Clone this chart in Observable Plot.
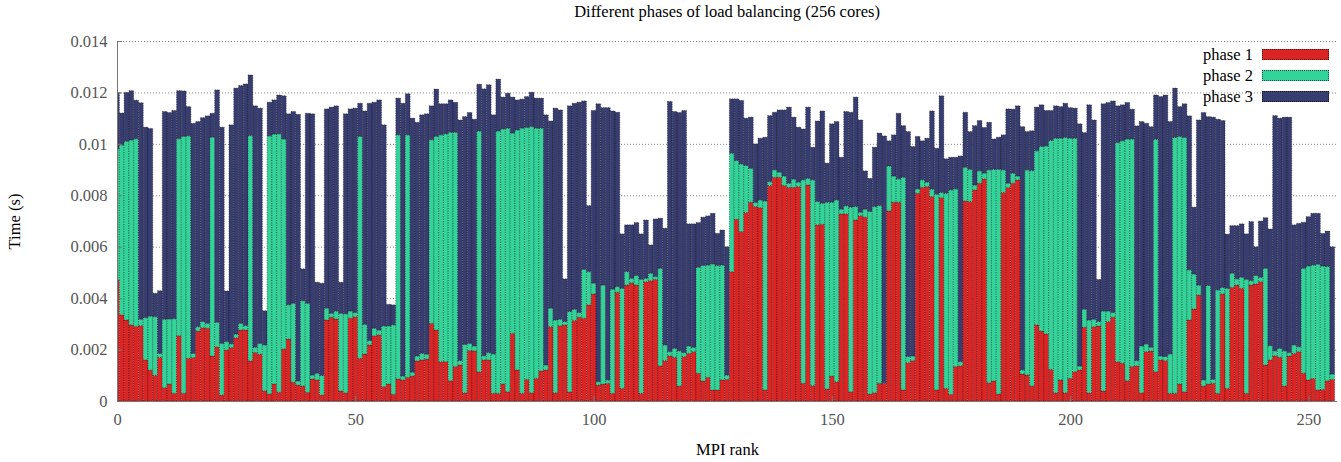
<!DOCTYPE html>
<html>
<head>
<meta charset="utf-8">
<script src="https://cdn.jsdelivr.net/npm/d3@7"></script>
<script src="https://cdn.jsdelivr.net/npm/@observablehq/plot@0.6"></script>
<style>
  body { margin: 0; background: #fff; font-family: "Liberation Serif", "DejaVu Serif", serif; }
  #wrap { position: relative; width: 1341px; height: 462px; overflow: hidden; }
  #title { position: absolute; left: 117px; width: 1220px; top: 2px; text-align: center; font-size: 16.5px; color: #000; }
  #chart { position: absolute; left: 0; top: 28px; }
  #legend { position: absolute; top: 44px; right: 12px; }
  .row { display: flex; align-items: center; justify-content: flex-end; height: 21px; font-size: 16.5px; color: #000; }
  .sw { width: 67px; height: 11px; margin-left: 9px; box-sizing: border-box; border: 1px dotted rgba(0,0,0,0.6); }
</style>
</head>
<body>
<div id="wrap">
  <div id="title">Different phases of load balancing (256 cores)</div>
  <div id="chart"></div>
  <div id="legend"></div>
</div>
<script>
// MPI ranks (categories)
const ranks = d3.range(256);
const phases = ["phase 1", "phase 2", "phase 3"];
const phaseColors = ["#db2525", "#33d49a", "#383d70"];
const yTicks = [0, 0.002, 0.004, 0.006, 0.008, 0.01, 0.012, 0.014];
const xTicks = [0, 50, 100, 150, 200, 250];

// cumulative end time of each phase per rank, in milliseconds
const phase1End = [
4.71,3.35,3.15,2.96,2.9,2.93,1.6,1.2,1.0,1.7,0.52,0.66,0.3,2.54,0.3,1.66,
1.69,2.72,2.85,2.83,1.75,2.11,0.23,1.98,2.08,2.46,2.76,2.76,1.56,1.89,1.82,0.4,
0.27,0.66,0.34,2.02,2.41,0.73,0.62,0.58,0.34,0.86,0.82,0.23,3.15,3.26,3.19,0.39,
0.32,3.22,3.28,1.66,1.83,2.18,2.54,2.57,0.56,0.66,0.26,0.86,0.82,0.92,0.97,1.56,
1.6,1.63,3.02,2.76,1.53,1.53,0.79,1.34,1.4,0.32,1.96,1.95,1.14,1.6,1.6,0.3,
0.3,0.66,0.36,2.63,1.21,0.3,0.84,0.32,0.88,1.17,1.21,2.89,0.32,2.93,2.96,0.36,
3.13,3.26,3.22,3.74,4.16,0.62,0.66,0.69,0.3,4.23,0.49,4.51,4.6,4.51,0.3,4.64,
4.68,4.73,1.36,1.57,1.76,1.7,0.58,1.73,1.85,1.92,1.08,0.78,0.92,0.43,0.43,0.82,
0.84,5.03,7.07,6.59,7.33,7.73,7.56,7.52,0.43,8.38,8.7,8.7,8.38,8.31,8.31,8.34,
0.69,8.4,0.6,6.85,6.87,0.47,0.97,0.75,7.28,7.28,0.36,7.04,7.21,7.15,0.27,0.32,
0.69,0.69,7.39,7.73,7.73,0.43,1.49,1.57,8.08,8.31,8.34,7.95,0.43,7.91,0.49,0.26,
1.34,1.37,7.78,7.76,8.21,8.47,8.64,0.71,0.78,0.27,8.11,8.3,8.47,8.6,1.05,1.01,
0.58,2.96,2.72,2.61,1.23,0.32,0.82,0.32,0.88,1.14,1.21,2.87,0.32,2.89,2.92,0.39,
3.09,3.26,1.53,1.47,0.79,1.34,1.37,0.32,1.92,1.95,1.14,1.6,1.57,0.3,0.3,0.66,
0.36,3.15,3.58,4.12,0.58,0.66,0.69,0.3,4.16,0.49,4.42,4.51,4.38,0.3,4.51,4.55,
4.64,1.4,1.6,1.76,1.7,0.58,1.75,1.85,1.92,1.08,0.82,0.88,0.43,0.45,0.79,0.84
];
const phase2End = [
9.8,9.96,10.1,10.15,10.2,3.18,3.24,3.3,3.28,1.85,3.18,3.19,3.2,10.2,10.29,10.31,
1.85,2.89,3.09,3.02,10.26,3.06,2.24,2.31,2.22,2.6,3.02,2.93,10.32,2.09,2.24,2.18,
10.31,10.38,10.39,10.19,3.74,3.8,0.78,3.9,3.8,1.01,1.08,0.99,3.61,3.41,3.5,3.41,
3.39,3.5,3.44,10.29,2.98,2.35,2.83,2.76,2.92,2.92,2.96,10.35,0.97,10.35,1.12,1.75,
1.85,1.82,10.16,10.29,10.35,10.39,10.45,10.45,1.57,2.2,2.24,2.14,10.5,1.76,1.88,1.83,
10.5,10.58,10.61,10.42,10.54,10.61,10.64,10.67,10.61,10.61,1.4,3.61,3.15,3.18,3.09,3.48,
3.57,3.44,5.12,5.03,4.58,0.75,4.51,0.82,4.35,4.45,4.38,5.03,4.77,4.88,4.73,4.77,
4.97,4.84,5.16,2.18,1.92,2.05,1.95,1.88,2.14,2.09,5.2,5.27,5.29,5.33,5.27,5.29,
1.01,9.64,9.35,9.22,9.16,9.05,7.72,7.82,7.78,8.53,8.99,8.9,8.75,8.47,8.63,8.51,
8.6,8.66,8.6,7.76,7.69,7.73,7.73,7.82,7.46,7.59,7.54,7.56,7.34,7.46,7.37,7.56,
7.6,0.71,9.14,8.75,8.64,8.7,1.73,1.75,8.25,8.6,8.51,8.24,8.04,8.11,8.08,8.21,
8.25,1.53,9.09,9.01,8.4,8.95,8.86,8.99,9.01,9.01,8.99,8.47,8.86,8.75,1.21,8.99,
8.96,9.73,9.9,9.92,10.13,10.22,10.22,10.25,10.22,10.22,1.36,3.57,3.15,3.18,3.09,3.5,
3.5,3.44,10.05,10.12,10.19,10.19,1.57,2.14,2.22,2.09,10.18,1.75,1.73,1.83,10.25,10.29,
10.25,5.1,4.94,4.51,0.82,4.49,0.84,4.32,4.41,4.38,4.97,4.75,4.81,4.73,4.68,4.88,
4.81,5.16,2.15,1.95,2.05,1.95,1.88,2.18,2.11,5.16,5.25,5.29,5.32,5.25,5.23,1.05
];
const phase3End = [
12.0,11.2,12.0,12.07,11.7,11.6,10.65,10.6,4.19,4.29,11.26,11.22,11.3,12.07,12.06,11.45,
10.8,10.87,11.02,11.09,11.19,12.1,10.65,4.28,10.74,12.17,12.27,12.33,12.68,11.48,11.39,3.51,
11.62,11.71,11.9,11.87,11.17,11.26,11.15,5.14,11.19,11.17,4.62,4.58,11.36,11.43,11.48,4.62,
11.17,11.36,11.39,11.58,11.28,11.58,11.62,11.71,10.74,3.76,3.74,11.78,11.58,11.95,11.0,10.84,
11.13,11.17,11.48,12.13,11.56,11.56,11.71,11.62,10.93,11.06,11.22,10.96,12.32,12.14,12.3,11.13,
12.52,11.82,11.97,11.82,11.71,11.74,11.84,12.01,11.78,11.78,11.13,10.89,11.39,11.32,4.75,11.48,
11.58,11.62,11.67,7.6,11.3,11.56,11.41,11.41,11.28,11.23,6.5,6.85,6.85,6.94,6.5,7.04,
6.07,7.08,7.11,6.72,11.65,11.26,11.22,11.3,6.89,6.89,6.94,7.15,7.2,7.3,6.52,6.65,
6.0,11.75,11.75,11.69,11.0,11.04,10.0,10.22,10.26,11.1,11.23,11.32,11.32,11.43,11.04,10.65,
10.58,11.43,9.87,10.89,11.28,9.25,10.78,10.87,9.48,11.26,11.23,11.82,10.93,8.95,8.66,9.87,
10.42,10.31,10.12,10.35,11.19,10.71,10.48,9.9,10.29,10.12,10.22,11.28,9.83,11.87,9.42,9.48,
9.48,9.53,11.23,10.48,10.71,10.91,10.64,10.84,10.19,10.26,10.35,11.36,11.35,11.48,10.67,10.48,
10.51,11.43,11.52,11.3,11.3,11.48,11.45,11.58,11.41,11.39,10.78,10.44,11.52,10.93,4.73,11.56,
11.61,11.67,11.48,11.52,11.61,11.35,10.7,10.87,10.8,10.67,11.9,11.84,11.9,10.87,12.17,11.45,
11.56,11.09,7.54,10.93,11.22,11.06,11.04,10.96,10.91,6.49,6.82,6.82,6.89,6.5,6.98,6.0,
7.0,7.13,6.69,11.1,11.0,11.04,11.04,6.85,6.91,6.95,7.17,7.3,7.3,6.52,6.61,6.0
];

const ends = [phase1End, phase2End, phase3End];
const rows = [];
ranks.forEach((r, i) => {
  let prev = 0;
  phases.forEach((p, k) => {
    const v = ends[k][i] / 1000; // ms -> s
    rows.push({rank: r, phase: p, y1: prev, y2: v});
    prev = v;
  });
});

const fmt = d => String(+d.toFixed(4));

const chart = Plot.plot({
  width: 1341,
  height: 434,
  marginLeft: 117,
  marginRight: 4,
  marginTop: 13,
  marginBottom: 61,
  x: {domain: [0, 256]},
  y: {domain: [0, 0.014]},
  color: {domain: phases, range: phaseColors},
  style: {fontFamily: "Liberation Serif, serif", fontSize: "16px", background: "white", color: "#000"},
  marks: [
    Plot.gridY(yTicks, {stroke: "#8a8a8a", strokeOpacity: 1, strokeDasharray: "1,2", strokeWidth: 1}),
    Plot.rect(rows, {
      x1: d => d.rank - 0.5, x2: d => d.rank + 0.5, y1: "y1", y2: "y2",
      fill: "phase", stroke: "#000", strokeOpacity: 0.55, strokeWidth: 0.8,
      strokeDasharray: "1.2,1.2", clip: true
    }),
    Plot.ruleX([0], {stroke: "#777"}),
    Plot.ruleY([0], {stroke: "#777"}),
    Plot.axisY(yTicks, {tickSize: -5, stroke: "#777", fill: "none", label: null}),
    Plot.axisX(xTicks, {tickSize: -5, stroke: "#777", fill: "none", label: null}),
    Plot.axisY(yTicks, {
      tickSize: 0, tickPadding: 10, tickFormat: fmt, fill: "#555", fontSize: 16.5,
      label: "Time (s)", labelAnchor: "center", labelArrow: "none", labelOffset: 109
    }),
    Plot.axisX(xTicks, {
      tickSize: 0, tickPadding: 12, tickFormat: d => String(d), fill: "#555", fontSize: 16.5,
      label: "MPI rank", labelAnchor: "center", labelArrow: "none", labelOffset: 53
    })
  ]
});
document.getElementById("chart").appendChild(chart);
chart.querySelectorAll("[aria-label='y-axis label'] text, [aria-label='x-axis label'] text").forEach(t => { t.setAttribute("fill", "#000"); });

const legend = document.getElementById("legend");
phases.forEach((p, k) => {
  const row = document.createElement("div");
  row.className = "row";
  const label = document.createElement("span");
  label.textContent = p;
  const sw = document.createElement("span");
  sw.className = "sw";
  sw.style.background = phaseColors[k];
  row.appendChild(label);
  row.appendChild(sw);
  legend.appendChild(row);
});
</script>
</body>
</html>
